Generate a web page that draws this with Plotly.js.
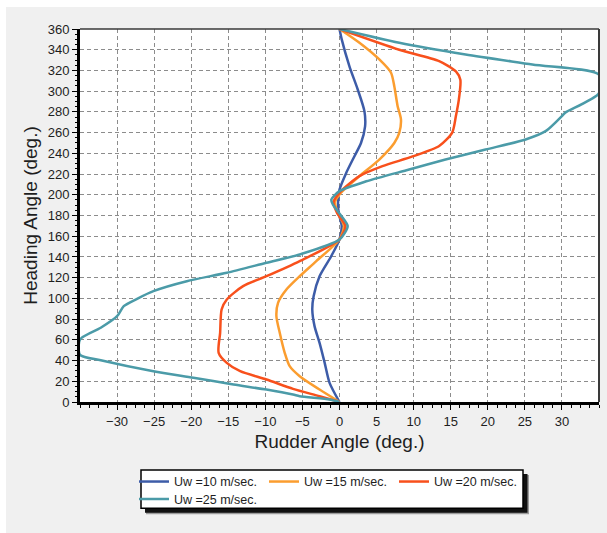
<!DOCTYPE html>
<html>
<head>
<meta charset="utf-8">
<script src="https://cdn.plot.ly/plotly-3.0.1.min.js"></script>
<style>
  html, body { margin: 0; padding: 0; background: #ffffff; }
  #chart { position: absolute; left: 6px; top: 7px; width: 601px; height: 526px; }
</style>
</head>
<body>
<div id="chart"></div>
<script>
// ---- data ----
const seriesNames = ['Uw =10 m/sec.', 'Uw =15 m/sec.', 'Uw =20 m/sec.', 'Uw =25 m/sec.'];
const seriesColors = ['#3d5ca8', '#fb9d2f', '#f8501c', '#4b9ba8'];

const heading10 = [0, 18.5, 37.8, 57, 73, 89, 102, 121.4, 140.7, 157, 170, 182, 192, 205, 221, 237, 250, 266, 280.7, 301.6, 324, 350, 360];
const rudder10  = [0, -1.34, -2.0, -2.69, -3.36, -3.67, -3.49, -2.69, -1.12, 0, 0.3, -0.1, -0.2, 0, 0.9, 2.0, 2.9, 3.45, 3.36, 2.46, 1.34, 0.3, 0];

const heading15 = [0, 12, 24.9, 34.6, 47.5, 66.8, 82.8, 95.7, 108.6, 121.4, 136, 157, 170, 182, 193, 202, 218, 234, 250, 259.8, 272.7, 285.5, 304.8, 317.8, 330.6, 346.7, 360];
const rudder15  = [0, -2.69, -5.37, -6.72, -7.39, -8.06, -8.51, -8.29, -7.16, -5.37, -3.13, 0, 0.6, -0.2, -0.6, 0.2, 2.69, 5.37, 7.39, 8.06, 8.29, 7.84, 7.39, 6.95, 5.37, 2.69, 0];

const heading20 = [0, 5.6, 12.7, 21.7, 29.7, 37.8, 47.5, 66.8, 89.3, 99, 111.8, 121.4, 136, 157, 170, 182, 193, 203.5, 218, 227.6, 237, 247, 260, 276, 292, 311, 319, 329, 340, 360];
const rudder20  = [0, -2.69, -6.27, -9.85, -13.4, -15.2, -16.3, -16.1, -15.9, -15.2, -13.0, -9.85, -5.37, 0, 0.8, -0.3, -0.8, 0.2, 2.69, 5.8, 9.85, 13.44, 15.2, 15.7, 16.1, 16.3, 15.7, 13.44, 8.06, 0];

const heading25 = [0, 2.4, 5.6, 7.2, 12, 16.9, 23.4, 29.7, 40.3, 45.5, 60.3, 71.6, 82.8, 92.5, 99.6, 107, 116.6, 124.7, 134.4, 142.4, 156.8, 169.7, 180, 190.6, 195.5, 203.5, 213, 224.4, 234, 243.7, 253.4, 261.4, 276, 279, 298, 316, 325.8, 335.4, 346.7, 360];
const rudder25  = [0, -1.34, -5.37, -6.27, -9.85, -14.3, -19.7, -25.1, -32.2, -35, -35, -32.2, -30, -29.1, -27.3, -25.1, -20.6, -15.2, -9.85, -5.37, 0, 1.1, 0.2, -0.9, -1.1, 0, 3.6, 9.4, 14.3, 19.7, 25.1, 27.8, 30, 30.4, 35, 35, 26, 17, 8.06, 0];

const xTickVals = [-30, -25, -20, -15, -10, -5, 0, 5, 10, 15, 20, 25, 30];
const yTickVals = [0, 20, 40, 60, 80, 100, 120, 140, 160, 180, 200, 220, 240, 260, 280, 300, 320, 340, 360];

const headings = [heading10, heading15, heading20, heading25];
const rudders  = [rudder10, rudder15, rudder20, rudder25];

const FONT = 'Liberation Sans, Arial, sans-serif';

const traces = seriesNames.map((name, i) => ({
  type: 'scatter',
  mode: 'lines',
  name: name,
  x: rudders[i],
  y: headings[i],
  line: { color: seriesColors[i], width: 2.5, shape: 'spline', smoothing: 0.7 },
  legend: i < 3 ? 'legend' : 'legend2',
  hoverinfo: 'skip'
}));

const px = 1 / 519, py = 1 / 373.5;

const layout = {
  width: 601, height: 526,
  margin: { l: 74, r: 8, t: 22, b: 130.5 },
  paper_bgcolor: '#f0f0f0',
  plot_bgcolor: '#ffffff',
  font: { family: FONT, size: 13, color: '#1e1e1e' },
  showlegend: true,
  xaxis: {
    range: [-35, 35],
    tickmode: 'array', tickvals: xTickVals,
    ticks: 'outside', ticklen: 5, tickcolor: '#000', tickwidth: 1,
    showline: true, linecolor: '#000', linewidth: 3,
    showgrid: true, gridcolor: '#8c8c8c', gridwidth: 1, griddash: '4px,3px',
    zeroline: false,
    minor: { dtick: 1.25, tick0: 0, ticks: 'outside', ticklen: 3, tickcolor: '#000', showgrid: false },
    tickfont: { size: 13, color: '#1e1e1e' },
    title: { text: 'Rudder Angle (deg.)', font: { size: 19, color: '#1e1e1e' }, standoff: 8 },
    fixedrange: true
  },
  yaxis: {
    range: [0, 360],
    tickmode: 'array', tickvals: yTickVals,
    ticks: 'outside', ticklen: 5, tickcolor: '#000', tickwidth: 1,
    showline: true, linecolor: '#000', linewidth: 3,
    showgrid: true, gridcolor: '#8c8c8c', gridwidth: 1, griddash: '4px,3px',
    zeroline: false,
    minor: { dtick: 5, tick0: 0, ticks: 'outside', ticklen: 2, tickcolor: '#000', showgrid: false },
    tickfont: { size: 13, color: '#1e1e1e' },
    title: { text: 'Heading Angle (deg.)', font: { size: 19, color: '#1e1e1e' }, standoff: 6 },
    fixedrange: true
  },
  legend: {
    orientation: 'h', xref: 'paper', yref: 'paper',
    x: 54 * px, xanchor: 'left', y: -65 * py, yanchor: 'top',
    bgcolor: 'rgba(0,0,0,0)', borderwidth: 0,
    entrywidth: 85, entrywidthmode: 'pixels',
    font: { family: FONT, size: 12.5, color: '#1e1e1e' }
  },
  legend2: {
    orientation: 'h', xref: 'paper', yref: 'paper',
    x: 54 * px, xanchor: 'left', y: -82.5 * py, yanchor: 'top',
    bgcolor: 'rgba(0,0,0,0)', borderwidth: 0,
    entrywidth: 85, entrywidthmode: 'pixels',
    font: { family: FONT, size: 12.5, color: '#1e1e1e' }
  },
  shapes: [
    // top & right frame of plot area
    { type: 'line', xref: 'paper', yref: 'paper', x0: 0, x1: 1, y0: 1, y1: 1, line: { color: '#3a3a3a', width: 1.5 }, layer: 'above' },
    { type: 'line', xref: 'paper', yref: 'paper', x0: 1, x1: 1, y0: 0, y1: 1, line: { color: '#3a3a3a', width: 2 }, layer: 'above' },
    // legend shadow
    { type: 'rect', xref: 'paper', yref: 'paper', x0: (141 - 80 + 5) * px, x1: (523 - 80 + 6) * px, y0: -(509 - 402.5 + 6) * py, y1: -(470.5 - 402.5 + 5) * py, fillcolor: 'rgba(0,0,0,0.35)', line: { width: 0 }, layer: 'above' },
    { type: 'rect', xref: 'paper', yref: 'paper', x0: (141 - 80 + 4) * px, x1: (523 - 80 + 4.5) * px, y0: -(509 - 402.5 + 4.5) * py, y1: -(470.5 - 402.5 + 4) * py, fillcolor: '#111111', line: { width: 0 }, layer: 'above' },
    // legend box
    { type: 'rect', xref: 'paper', yref: 'paper', x0: (141 - 80) * px, x1: (523 - 80) * px, y0: -(509 - 402.5) * py, y1: -(470.5 - 402.5) * py, fillcolor: '#ffffff', line: { color: '#000', width: 1.5 }, layer: 'above' }
  ]
};

Plotly.newPlot('chart', traces, layout, { displayModeBar: false, staticPlot: true });
</script>
</body>
</html>
